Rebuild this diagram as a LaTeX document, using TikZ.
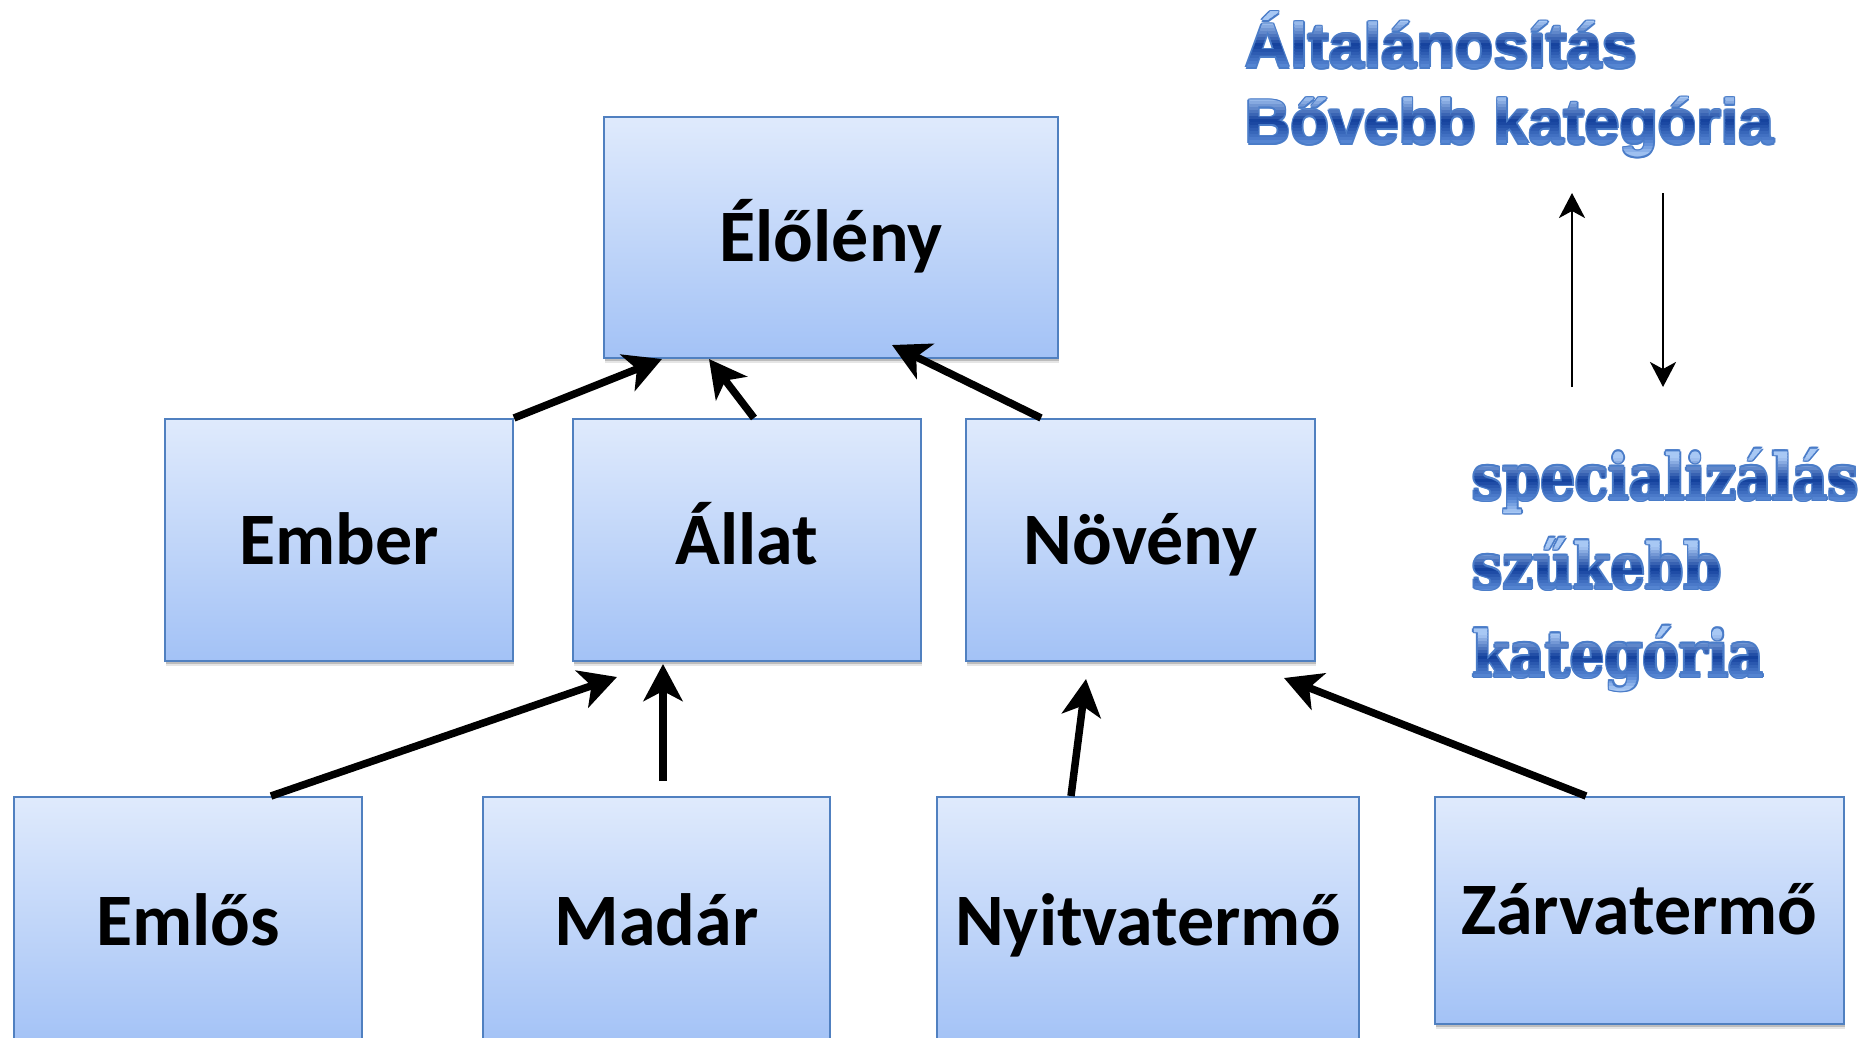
\documentclass[tikz,border=0pt]{standalone}
\usepackage{fontspec}
\usepackage{graphicx}
\usetikzlibrary{arrows.meta,shadows}
\setmainfont{Carlito}
\newfontfamily\headsans{Liberation Sans}
\newfontfamily\headserif{DejaVu Serif}

\definecolor{boxtop}{HTML}{DFEAFC}
\definecolor{boxbot}{HTML}{A3C2F6}
\definecolor{boxline}{HTML}{5080C0}
\definecolor{gtop}{HTML}{A8C8F4}
\definecolor{gmid}{HTML}{13409C}
\definecolor{gbot}{HTML}{5A8AD6}
\definecolor{gline}{HTML}{4A7CC8}

\newcommand\boxfont{\bfseries\fontsize{74}{74}\selectfont}
\newcommand\genfont{\headsans\bfseries\fontsize{63}{63}\selectfont}
\newcommand\specfont{\headserif\bfseries\fontsize{64}{64}\selectfont}
\newcommand\narrow[1]{\scalebox{0.85}[1]{#1}}

% heading line filled with a vertical gradient (thin horizontal bands) and a thin outline
% #1 x, #2 baseline y, #3 font, #4 text, #5 height of the darkest band, #6 height where it is lightest
\newcommand\gradline[6]{%
  \foreach \ang in {0,45,...,315}
    \node[anchor=base west, inner sep=0pt, text=gline, font=#3,
          xshift={1.6pt*cos(\ang)}, yshift={1.6pt*sin(\ang)}] at (#1,#2) {#4};
  \foreach \k in {-24,...,7} {
    \pgfmathsetmacro\hh{-3*\k-1.5}
    \pgfmathsetmacro\ya{#2+3*\k}
    \pgfmathsetmacro\yb{#2+3*\k+3.3}
    \pgfmathtruncatemacro\pa{max(0,min(100,(\hh-#5)/(#6-#5)*100))}
    \pgfmathtruncatemacro\pb{max(0,min(100,(#5-\hh)/#5*100))}
    \pgfmathtruncatemacro\pc{max(0,min(100,-\hh/12*100))}
    \ifnum\pa>0 \colorlet{bandcol}{gtop!\pa!gmid}\else
      \ifnum\pc>0 \colorlet{bandcol}{gtop!\pc!gbot}\else
        \colorlet{bandcol}{gbot!\pb!gmid}\fi\fi
    \begin{scope}
      \clip (#1-5,\ya) rectangle (#1+700,\yb);
      \node[anchor=base west, inner sep=0pt, font=#3, text=bandcol] at (#1,#2) {#4};
    \end{scope}
  }
}

\begin{document}
\begin{tikzpicture}[x=1pt, y=-1pt,
  box/.style={draw=boxline, line width=2pt, top color=boxtop, bottom color=boxbot,
    inner sep=0pt, text height=48pt, text depth=0pt, font=\boxfont,
    drop shadow={shadow xshift=1pt, shadow yshift=-5pt, opacity=0.10, fill=black},
    drop shadow={shadow xshift=0.5pt, shadow yshift=-3pt, opacity=0.18, fill=black}},
  bigarrow/.style={line width=7.5pt, -{Stealth[length=37pt, width=39pt, inset=10pt]}},
  thinarrow/.style={line width=2.8pt, -{Stealth[length=25pt, width=26pt, inset=7pt]}}]
\useasboundingbox (0,0) rectangle (1871,1038);

% hierarchy boxes
\node[box, minimum width=454pt, minimum height=241pt] (eloleny) at (831,237.5) {Élőlény};
\node[box, minimum width=348pt, minimum height=242pt] (ember)   at (339,540)   {Ember};
\node[box, minimum width=348pt, minimum height=242pt] (allat)   at (747,540)   {Állat};
\node[box, minimum width=349pt, minimum height=242pt] (noveny)  at (1140.5,540) {Növény};
\node[box, minimum width=348pt, minimum height=248pt] (emlos)   at (188,921)   {Emlős};
\node[box, minimum width=347pt, minimum height=248pt] (madar)   at (656.5,921) {Madár};
\node[box, minimum width=422pt, minimum height=248pt] (nyitva)  at (1148,921)  {Nyitvatermő};
\node[box, minimum width=409pt, minimum height=227pt] (zarva)   at (1639.5,910.5) {Zárvatermő};

% generalisation arrows
\draw[bigarrow] (ember.north east) -- ([xshift=59pt]eloleny.south west);
\draw[bigarrow] ([xshift=182pt]allat.north west) -- ([xshift=106pt]eloleny.south west);
\draw[bigarrow] ([xshift=76pt]noveny.north west) -- ([xshift=289pt, yshift=14pt]eloleny.south west);
\draw[bigarrow] ([xshift=258pt]emlos.north west) -- ([xshift=45pt, yshift=-15pt]allat.south west);
\draw[bigarrow] ([xshift=181pt, yshift=15pt]madar.north west) -- ([xshift=91pt, yshift=-2pt]allat.south west);
\draw[bigarrow] ([xshift=135pt]nyitva.north west) -- ([xshift=121pt, yshift=-17pt]noveny.south west);
\draw[bigarrow] ([xshift=152pt]zarva.north west) -- ([xshift=319pt, yshift=-16pt]noveny.south west);

% direction legend
\coordinate (upfoot) at (1572,387);
\coordinate (uphead) at (1572,193);
\coordinate (downtop) at (1663,193);
\coordinate (downfoot) at (1663,387);
\draw[thinarrow] (upfoot) -- (uphead);
\draw[thinarrow] (downtop) -- (downfoot);

% headings
\gradline{1245}{68}{\genfont}{Általánosítás}{22}{46}
\gradline{1245}{144}{\genfont}{Bővebb kategória}{22}{46}
\gradline{1472}{500}{\specfont}{\narrow{specializálás}}{20}{42}
\gradline{1472}{589}{\specfont}{\narrow{szűkebb}}{20}{42}
\gradline{1472}{677}{\specfont}{\narrow{kategória}}{20}{42}
\end{tikzpicture}
\end{document}
